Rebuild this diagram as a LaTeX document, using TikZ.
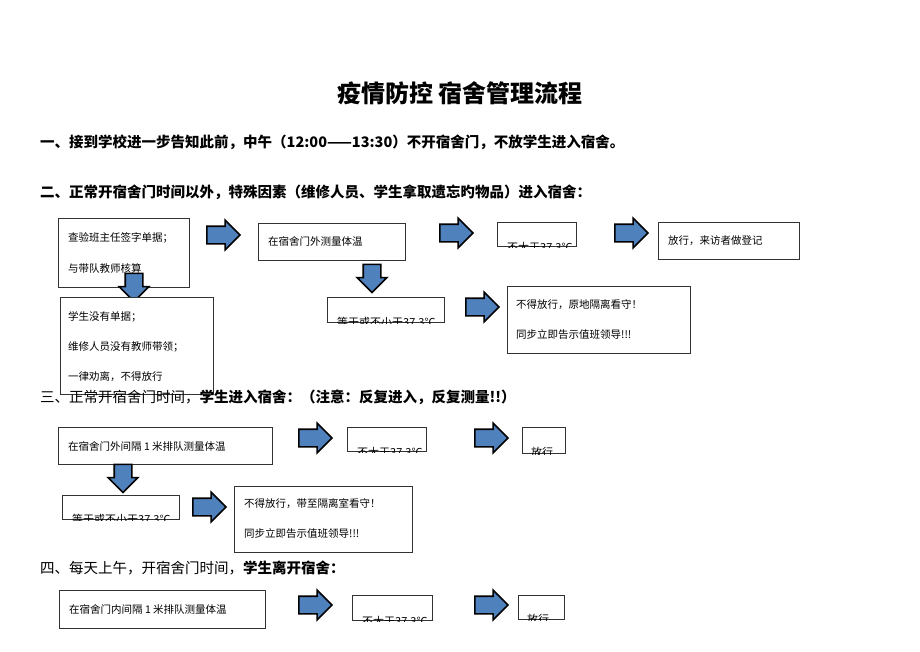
\documentclass[tikz,border=0pt]{standalone}
\usepackage{fontspec}
\setmainfont{Noto Sans CJK SC}
\usetikzlibrary{shapes.arrows}
\definecolor{arrblue}{HTML}{4F81BD}
\begin{document}
\begin{tikzpicture}[x=1pt,y=-1pt,
  box/.style={draw=black!80, line width=.7pt},
  txt/.style={anchor=west, inner sep=0pt, font=\fontsize{10.5}{12}\selectfont},
  cut/.style={txt, anchor=base west, font=\fontsize{11}{13}\selectfont},
  head/.style={anchor=west, inner sep=0pt, font=\fontsize{14.5}{16}\selectfont},
  rarr/.style={single arrow, draw=black, line width=1.6pt, fill=arrblue, minimum width=29pt, minimum height=33pt, single arrow head extend=6pt, inner xsep=0pt, inner ysep=8pt},
  darr/.style={rarr, shape border rotate=270, minimum width=28pt, minimum height=28pt, inner sep=8pt}]
\useasboundingbox (0,0) rectangle (920,651);

\node (title) at (460,93) {\fontsize{24}{26}\selectfont\bfseries 疫情防控\ 宿舍管理流程};
\node[head] (h1) at (40,142) {\bfseries 一、接到学校进一步告知此前，中午（12:00——13:30）不开宿舍门，不放学生进入宿舍。};
\node[head] (h2) at (40,192) {\bfseries 二、正常开宿舍门时间以外，特殊因素（维修人员、学生拿取遗忘旳物品）进入宿舍：};

% row two
\draw[box] (58,218) rectangle (189,287);
\node[txt] (t1) at (68,238) {查验班主任签字单据；};
\node[txt] (t2) at (68,268) {与带队教师核算};
\node[rarr] (a1) at (219,235) {};
\draw[box] (258,223) rectangle (405,260);
\node[txt] (t3) at (268,241) {在宿舍门外测量体温};
\node[rarr] (a2) at (452,233) {};
\begin{scope}
\clip (496,221) rectangle (577,247);
\draw[box] (497,222) rectangle (576,246);
\node[cut] (t4) at (507,251) {不大于37.3℃};
\end{scope}
\node[rarr] (a3) at (627,233) {};
\draw[box] (658,222) rectangle (799,259);
\node[txt] (t5) at (668,241) {放行，来访者做登记};
\node[darr] (a4) at (134,283) {};
\draw[box, fill=white] (60,297) rectangle (213,394);
\node[txt] (t6) at (68,317) {学生没有单据；};
\node[txt] (t7) at (68,347) {维修人员没有教师带领；};
\node[txt] (t8) at (68,377) {一律劝离，不得放行};
\node[darr] (a5) at (372,274) {};
\begin{scope}
\clip (326,296) rectangle (445,323);
\draw[box] (327,297) rectangle (444,322);
\node[cut] (t9) at (337,326) {等于或不小于37.3℃};
\end{scope}
\node[rarr] (a6) at (478,307) {};
\draw[box] (507,286) rectangle (690,353);
\node[txt] (t10) at (516,305) {不得放行，原地隔离看守！};
\node[txt] (t11) at (516,335) {同步立即告示值班领导!!!};

\node[head] (h3) at (40,397) {三、正常开宿舍门时间，\bfseries 学生进入宿舍：（注意：反复进入，反复测量!!）};

% row three
\draw[box] (58,427) rectangle (272,464);
\node[txt] (u1) at (68,446) {在宿舍门外间隔 1 米排队测量体温};
\node[rarr] (b1) at (311,438) {};
\begin{scope}
\clip (346,426) rectangle (427,452);
\draw[box] (347,427) rectangle (426,451);
\node[cut] (u2) at (357,456) {不大于37.3℃};
\end{scope}
\node[rarr] (b2) at (487,438) {};
\begin{scope}
\clip (521,426) rectangle (566,454);
\draw[box] (522,427) rectangle (565,453);
\node[cut] (u3) at (531,456) {放行};
\end{scope}
\node[darr] (b3) at (123,474) {};
\begin{scope}
\clip (61,494) rectangle (180,520);
\draw[box] (62,495) rectangle (179,519);
\node[cut] (u4) at (72,523) {等于或不小于37.3℃};
\end{scope}
\node[rarr] (b4) at (205,507) {};
\draw[box] (234,486) rectangle (412,552);
\node[txt] (u5) at (244,504) {不得放行，带至隔离室看守！};
\node[txt] (u6) at (244,534) {同步立即告示值班领导!!!};

\node[head] (h4) at (40,568) {四、每天上午，开宿舍门时间，\bfseries 学生离开宿舍：};

% row four
\draw[box] (59,590) rectangle (265,628);
\node[txt] (v1) at (69,609) {在宿舍门内间隔 1 米排队测量体温};
\node[rarr] (c1) at (311,605) {};
\begin{scope}
\clip (351,594) rectangle (433,621);
\draw[box] (352,595) rectangle (432,620);
\node[cut] (v2) at (362,625) {不大于37.3℃};
\end{scope}
\node[rarr] (c2) at (487,605) {};
\begin{scope}
\clip (517,594) rectangle (565,620);
\draw[box] (518,595) rectangle (564,619);
\node[cut] (v3) at (527,623) {放行};
\end{scope}
\end{tikzpicture}
\end{document}
